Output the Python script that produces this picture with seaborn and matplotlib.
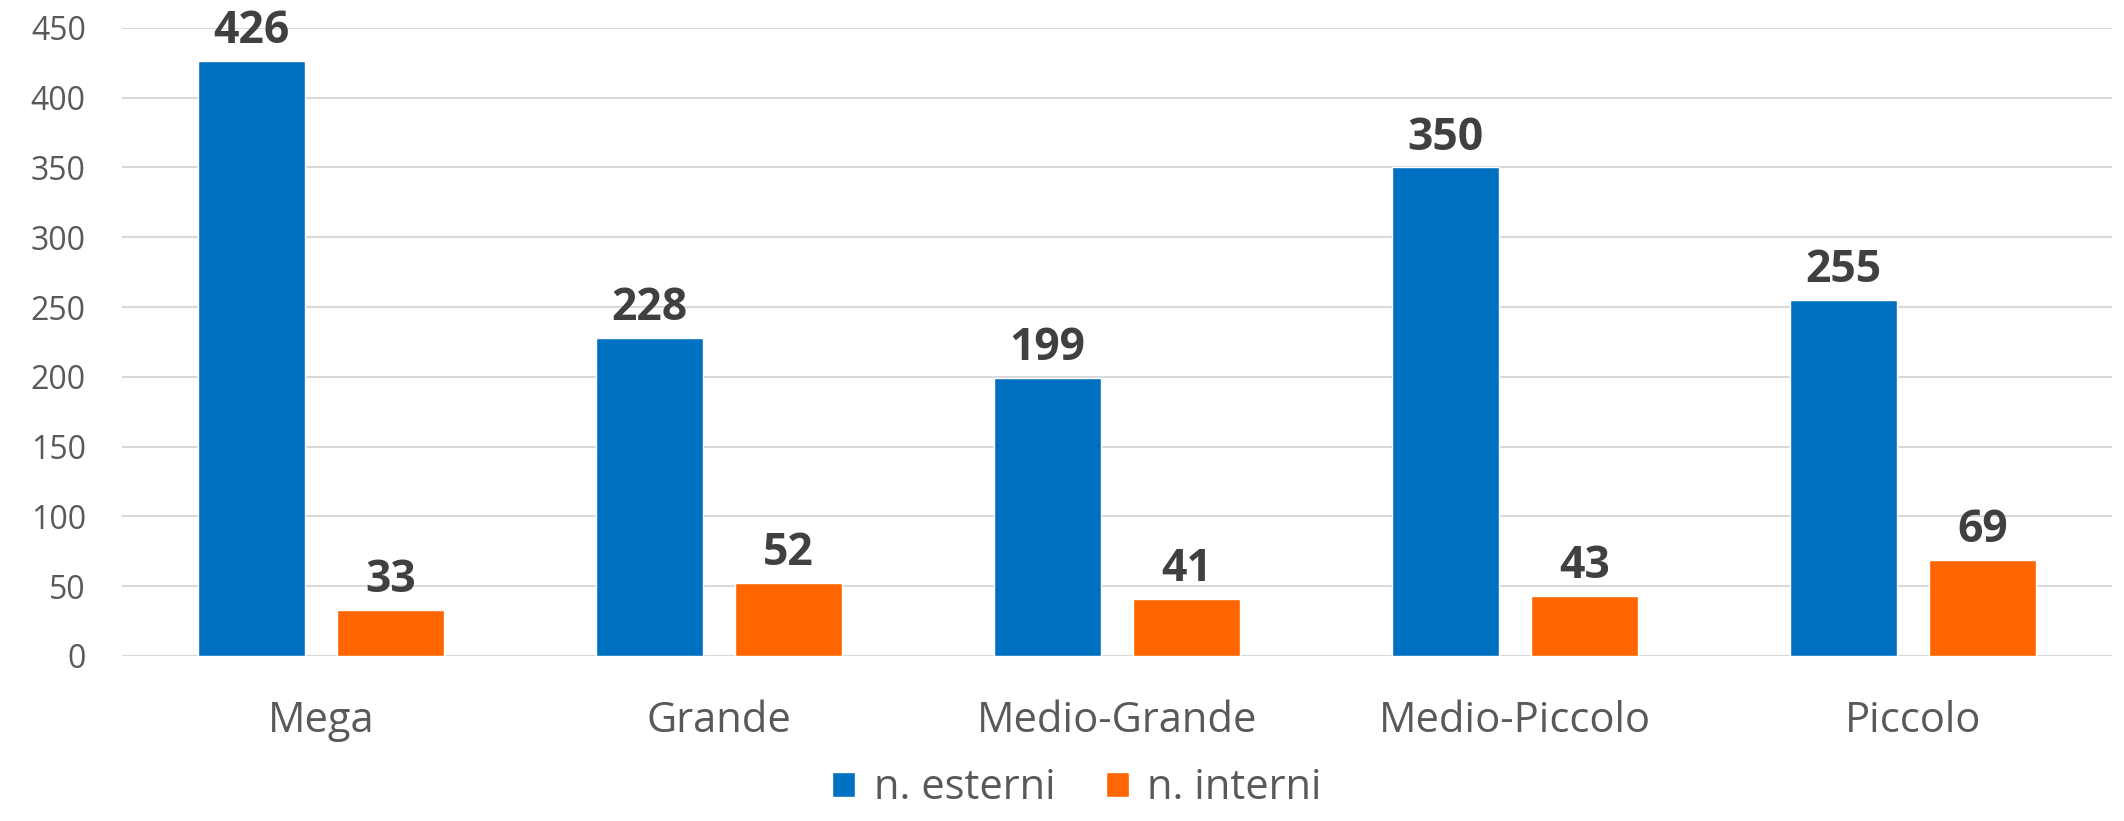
import matplotlib
matplotlib.use("Agg")
import matplotlib.pyplot as plt
import seaborn as sns
import pandas as pd

categories = ["Mega", "Grande", "Medio-Grande", "Medio-Piccolo", "Piccolo"]
esterni = [426, 228, 199, 350, 255]
interni = [33, 52, 41, 43, 69]
series_names = ["n. esterni", "n. interni"]
y_ticks = [0, 50, 100, 150, 200, 250, 300, 350, 400, 450]

colors = {"n. esterni": "#0070C0", "n. interni": "#FF6600"}

df = pd.DataFrame({
    "categoria": categories * 2,
    "serie": [series_names[0]] * len(categories) + [series_names[1]] * len(categories),
    "valore": esterni + interni,
})

sns.set_style("white")
plt.rcParams["font.family"] = ["Open Sans", "DejaVu Sans"]

fig = plt.figure(figsize=(21.24, 8.21), dpi=100)
ax = fig.add_axes([0.0574, 0.201, 0.937, 0.765])

sns.barplot(data=df, x="categoria", y="valore", hue="serie", order=categories,
            hue_order=series_names, palette=colors, width=0.698, gap=0.23,
            saturation=1, ax=ax, zorder=3)

ax.set_ylim(0, 450)
ax.set_yticks(y_ticks)
ax.set_xlim(-0.5, len(categories) - 0.5)
ax.yaxis.grid(True, color="#D9D9D9", linewidth=1.5, zorder=0)
ax.set_axisbelow(True)
for s in ax.spines.values():
    s.set_visible(False)
ax.tick_params(axis="y", length=0, pad=26, labelsize=23, labelcolor="#595959")
ax.tick_params(axis="x", length=0, pad=32, labelsize=30, labelcolor="#595959")
ax.set_xlabel("")
ax.set_ylabel("")

for container in ax.containers:
    ax.bar_label(container, fmt="%d", padding=5, fontsize=32, fontweight="bold",
                 color="#404040")

handles, labels = ax.get_legend_handles_labels()
ax.legend(handles, labels, loc="lower center", bbox_to_anchor=(0.48, -0.29),
          ncol=2, frameon=False, fontsize=30, labelcolor="#595959",
          handlelength=0.55, handleheight=0.55, handletextpad=0.45,
          columnspacing=1.2, borderpad=0.2)

fig.savefig("out.png", dpi=100)
